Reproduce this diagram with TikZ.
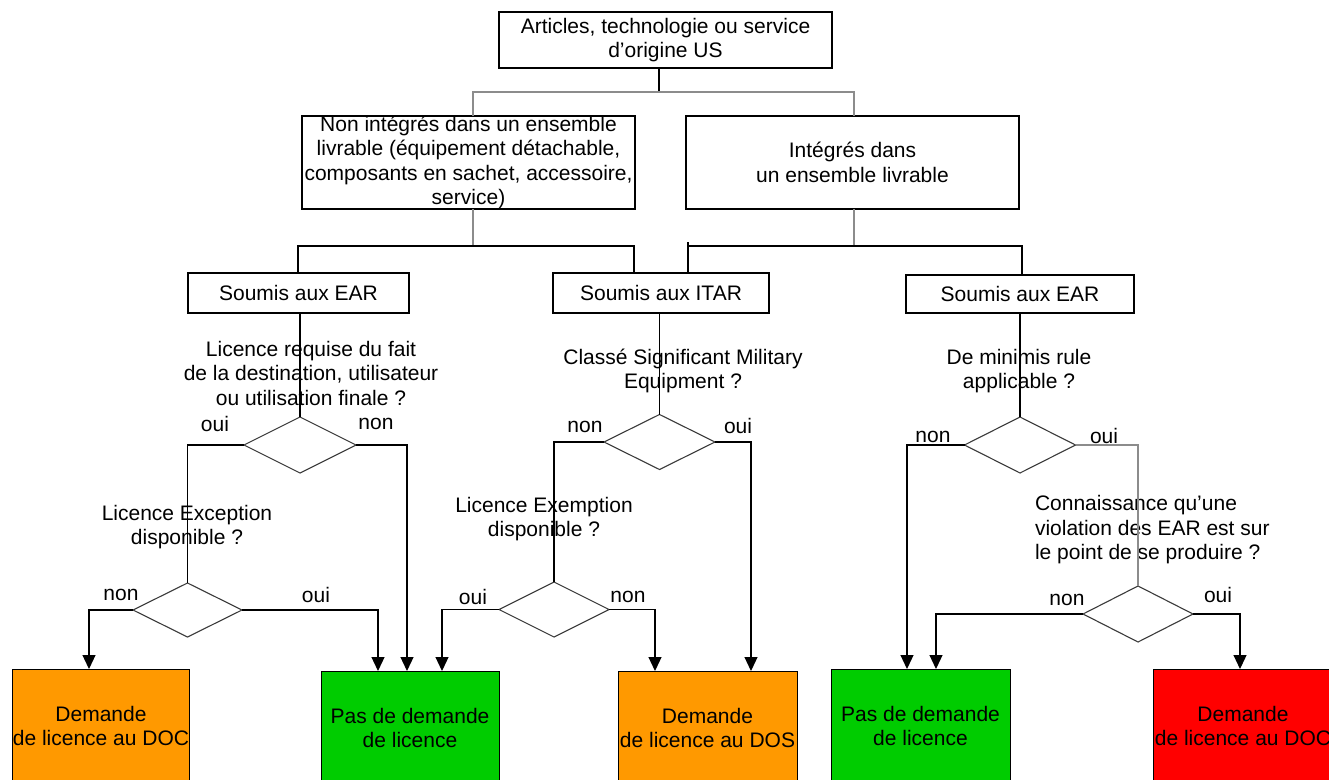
\documentclass[tikz,border=0pt]{standalone}
\usepackage{fontspec}
\setmainfont{Liberation Sans}
\usetikzlibrary{shapes.geometric,arrows.meta}
\definecolor{boxorange}{HTML}{FF9900}
\definecolor{boxgreen}{HTML}{00CC00}
\definecolor{boxred}{HTML}{FF0000}
\definecolor{wire}{HTML}{8C8C8C}
\definecolor{rim}{HTML}{3A3A3A}

\begin{document}
\begin{tikzpicture}[x=1pt,y=-1pt,
  every node/.style={font=\fontsize{21}{24.5}\selectfont, inner sep=0pt, outer sep=0pt},
  framebox/.style={draw=black, line width=1.2pt, rectangle, align=center},
  outcome/.style={draw=black, line width=1pt, rectangle, align=center,
    minimum width=#1, minimum height=114pt},
  choice/.style={draw=rim, line width=1.1pt, diamond, minimum width=111pt, minimum height=56pt},
  question/.style={align=center},
  link/.style={draw=black, line width=1.2pt},
  softlink/.style={draw=wire, line width=1.2pt},
  flow/.style={link, -{Triangle[width=13pt,length=14pt]}}]

\useasboundingbox (0,0) rectangle (1329,779);
\clip (0,0) rectangle (1329,779);

% --- upper levels
\node[framebox, minimum width=333pt, minimum height=56pt] (top) at (665.5,40)
  {Articles, technologie ou service\\d’origine US};
\node[framebox, minimum width=333pt, minimum height=93pt,
  label={[align=center]center:Non intégrés dans un ensemble\\livrable (équipement détachable,\\composants en sachet, accessoire,\\service)}]
  (nonint) at (468.5,162.5) {};
\node[framebox, minimum width=333pt, minimum height=93pt] (integ) at (852.5,162.5)
  {Intégrés dans\\un ensemble livrable};

\node[framebox, minimum width=221pt, minimum height=40pt] (ear1) at (298.5,293) {Soumis aux EAR};
\node[framebox, minimum width=216pt, minimum height=40pt] (itar) at (661,293) {Soumis aux ITAR};
\node[framebox, minimum width=228pt, minimum height=38pt] (ear2) at (1020,294) {Soumis aux EAR};

% --- questions
\node[question] (q1) at (311,373) {Licence requise du fait\\de la destination, utilisateur\\ou utilisation finale ?};
\node[question] (q2) at (187,527) {Licence Exception\\disponible ?};
\node[question] (q3) at (683,371) {Classé Significant Military\\Equipment ?};
\node[question] (q4) at (544,519) {Licence Exemption\\disponible ?};
\node[question] (q5) at (1019,371) {De minimis rule\\applicable ?};
\node[align=left, anchor=west] (q6) at (1035,530) {Connaissance qu’une\\violation des EAR est sur\\le point de se produire ?};

% --- decisions
\node[choice, minimum width=112pt] (d1) at (300,445) {};
\node[choice, minimum width=109pt, minimum height=54pt] (d2) at (187.5,610) {};
\node[choice, minimum height=55pt] (d3) at (659.5,442) {};
\node[choice, minimum width=110pt, minimum height=55pt] (d4) at (554,609.5) {};
\node[choice] (d5) at (1020,445) {};
\node[choice, minimum width=110pt] (d6) at (1138,614) {};

% --- answers
\node (a1o) at (215,424) {oui};
\node (a1n) at (376,424) {non};
\node (a2n) at (121,595) {non};
\node (a2o) at (316,595) {oui};
\node (a3n) at (585,427) {non};
\node (a3o) at (738,426) {oui};
\node (a4o) at (473,597) {oui};
\node (a4n) at (628,597) {non};
\node (a5n) at (933,437) {non};
\node (a5o) at (1104,436) {oui};
\node (a6n) at (1067,600) {non};
\node (a6o) at (1218,595) {oui};

% --- outcomes
\node[outcome=176pt, fill=boxorange] (o1) at (101,726) {Demande\\de licence au DOC};
\node[outcome=178pt, fill=boxgreen] (g1) at (410,728) {Pas de demande\\de licence};
\node[outcome=179pt, fill=boxorange] (o2) at (707.5,728) {Demande\\de licence au DOS};
\node[outcome=179pt, fill=boxgreen] (g2) at (920.5,726) {Pas de demande\\de licence};
\node[outcome=180pt, fill=boxred] (red) at (1243,726) {Demande\\de licence au DOC};

% --- tree connectors
\coordinate (j0) at (659,92);
\coordinate (jl) at (473,92);
\coordinate (jr) at (854,92);
\draw[link] (j0 |- top.south) -- (j0);
\draw[softlink] (jl |- nonint.north) -- (jl) -- (jr) -- (jr |- integ.north);

\coordinate (k0) at (473,246);
\coordinate (kl) at (298,246);
\coordinate (kr) at (634,246);
\draw[softlink] (k0 |- nonint.south) -- (k0);
\draw[link] (kl |- ear1.north) -- (kl) -- (kr) -- (kr |- itar.north);

\coordinate (m0) at (854,246);
\coordinate (ml) at (688,242);
\coordinate (mr) at (1022,246);
\draw[softlink] (m0 |- integ.south) -- (m0);
\draw[link] (ml |- itar.north) -- (ml);
\draw[link] (ml |- m0) -- (mr) -- (mr |- ear2.north);

% --- decision connectors
\coordinate (x1) at (407,0);
\coordinate (x2) at (89,0);
\coordinate (x3) at (378,0);
\coordinate (x5) at (751,0);
\coordinate (x6) at (442,0);
\coordinate (x7) at (655,0);
\coordinate (x8) at (907,0);
\coordinate (x9) at (936,0);
\coordinate (x10) at (1240,0);

\draw[link] (d1.north |- ear1.south) -- (d1.north);
\draw[link] (d1.west) -| (d2.north);
\draw[flow] (d1.east) -| (x1 |- g1.north);
\draw[flow] (d2.west) -| (x2 |- o1.north);
\draw[flow] (d2.east) -| (x3 |- g1.north);

\draw[link] (d3.north |- itar.south) -- (d3.north);
\draw[link] (d3.west) -| (d4.north);
\draw[flow] (d3.east) -| (x5 |- o2.north);
\draw[flow] (d4.west) -| (x6 |- g1.north);
\draw[flow] (d4.east) -| (x7 |- o2.north);

\draw[link] (d5.north |- ear2.south) -- (d5.north);
\draw[flow] (d5.west) -| (x8 |- g2.north);
\draw[softlink] (d5.east) -| (d6.north);
\draw[flow] (d6.west) -| (x9 |- g2.north);
\draw[flow] (d6.east) -| (x10 |- red.north);
\end{tikzpicture}
\end{document}
